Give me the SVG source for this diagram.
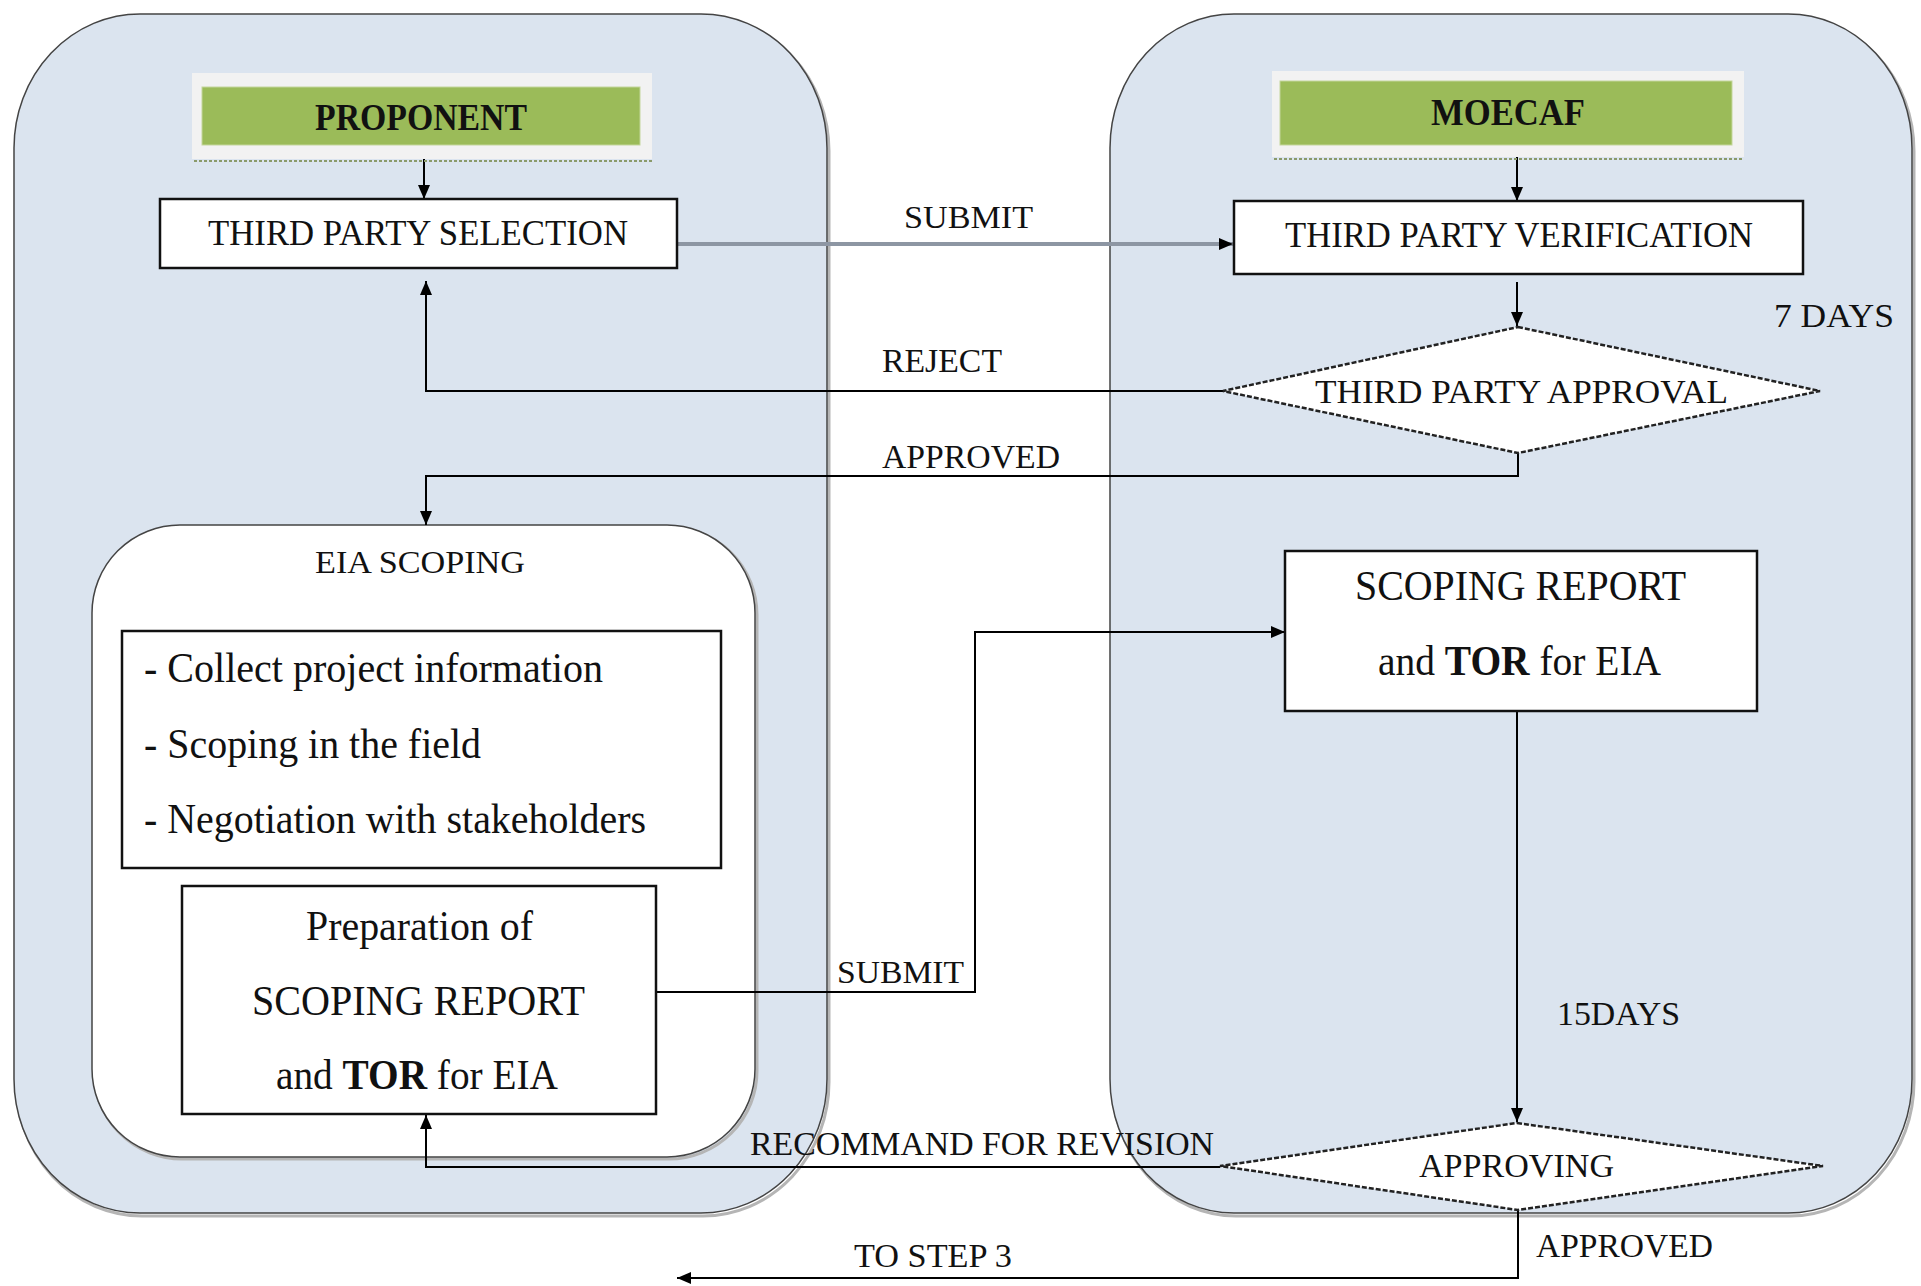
<svg xmlns="http://www.w3.org/2000/svg" width="1921" height="1286" viewBox="0 0 1921 1286">
<defs>
<marker id="arr" viewBox="0 0 14 12" refX="14" refY="6" markerWidth="14" markerHeight="13" markerUnits="userSpaceOnUse" orient="auto">
<path d="M0,0 L14,6 L0,12 z" fill="#000"/>
</marker>
<style>
.panel{fill:#dbe4ef;stroke:#444;stroke-width:1.5}
.shadow{fill:none;stroke:#b5b5b5;stroke-width:3}
.box{fill:#fff;stroke:#111;stroke-width:2.5}
.dia{fill:#fff;stroke:#222;stroke-width:2.5;stroke-dasharray:5 2}
.hdr{fill:#f2f2f2}
.hdrdot{stroke:#8a9a6a;stroke-width:2;stroke-dasharray:3 2}
.green{fill:#9bbb59;stroke:#c3d69b;stroke-width:1}
.conn{fill:none;stroke:#000;stroke-width:2}
.t{font-family:"Liberation Serif","Times New Roman",serif;fill:#111}
.b{font-weight:bold}
</style>
</defs>
<rect width="1921" height="1286" fill="#fff"/>
<g id="panel-proponent">
<rect class="shadow" x="16" y="17" width="813" height="1199" rx="126" ry="134"/>
<rect class="panel" x="14" y="14" width="813" height="1199" rx="126" ry="134"/>
</g>
<g id="panel-moecaf">
<rect class="shadow" x="1112" y="17" width="802" height="1199" rx="124" ry="134"/>
<rect class="panel" x="1110" y="14" width="802" height="1199" rx="124" ry="134"/>
</g>
<g id="eia-scoping">
<rect class="shadow" x="94" y="527" width="663" height="632" rx="88" ry="88"/>
<rect x="92" y="525" width="663" height="632" rx="88" ry="88" fill="#fff" stroke="#444" stroke-width="1.5"/>
<text class="t" x="315" y="573" font-size="32" textLength="210" lengthAdjust="spacingAndGlyphs">EIA SCOPING</text>
</g>
<g id="connectors">
<path class="conn" d="M424,152 V199" marker-end="url(#arr)"/>
<path d="M677,244 H1233" fill="none" stroke="#8d96a3" stroke-width="4" marker-end="url(#arr)"/>
<path class="conn" d="M1517,152 V201" marker-end="url(#arr)"/>
<path class="conn" d="M1517,282 V326" marker-end="url(#arr)"/>
<path class="conn" d="M1223,391 H426 V281" marker-end="url(#arr)"/>
<path class="conn" d="M1518,453 V476 H426 V525" marker-end="url(#arr)"/>
<path class="conn" d="M656,992 H975 V632 H1285" marker-end="url(#arr)"/>
<path class="conn" d="M1517,711 V1122" marker-end="url(#arr)"/>
<path class="conn" d="M1220,1167 H426 V1115" marker-end="url(#arr)"/>
<path class="conn" d="M1518,1210 V1278 H677" marker-end="url(#arr)"/>
<text class="t" x="904" y="228" font-size="32" textLength="129" lengthAdjust="spacingAndGlyphs">SUBMIT</text>
<text class="t" x="882" y="372" font-size="33" textLength="120" lengthAdjust="spacingAndGlyphs">REJECT</text>
<text class="t" x="882" y="468" font-size="33" textLength="178" lengthAdjust="spacingAndGlyphs">APPROVED</text>
<text class="t" x="1774" y="327" font-size="34" textLength="120" lengthAdjust="spacingAndGlyphs">7 DAYS</text>
<text class="t" x="837" y="983" font-size="32" textLength="127" lengthAdjust="spacingAndGlyphs">SUBMIT</text>
<text class="t" x="1557" y="1025" font-size="33" textLength="123" lengthAdjust="spacingAndGlyphs">15DAYS</text>
<text class="t" x="750" y="1155" font-size="33" textLength="464" lengthAdjust="spacingAndGlyphs">RECOMMAND FOR REVISION</text>
<text class="t" x="1536" y="1257" font-size="33" textLength="177" lengthAdjust="spacingAndGlyphs">APPROVED</text>
<text class="t" x="854" y="1267" font-size="33" textLength="158" lengthAdjust="spacingAndGlyphs">TO STEP 3</text>
</g>
<g id="proponent">
<rect class="hdr" x="192" y="73" width="460" height="86"/>
<line class="hdrdot" x1="194" y1="161" x2="652" y2="161"/>
<rect class="green" x="202" y="87" width="438" height="58"/>
<text class="t b" x="315" y="130" font-size="38" textLength="212" lengthAdjust="spacingAndGlyphs">PROPONENT</text>
</g>
<g id="moecaf">
<rect class="hdr" x="1272" y="71" width="472" height="86"/>
<line class="hdrdot" x1="1274" y1="159" x2="1744" y2="159"/>
<rect class="green" x="1280" y="81" width="452" height="64"/>
<text class="t b" x="1431" y="125" font-size="38" textLength="154" lengthAdjust="spacingAndGlyphs">MOECAF</text>
</g>
<g id="third-party-selection">
<rect class="box" x="160" y="199" width="517" height="69"/>
<text class="t" x="208" y="245" font-size="36" textLength="420" lengthAdjust="spacingAndGlyphs">THIRD PARTY SELECTION</text>
</g>
<g id="third-party-verification">
<rect class="box" x="1234" y="201" width="569" height="73"/>
<text class="t" x="1285" y="247" font-size="36" textLength="468" lengthAdjust="spacingAndGlyphs">THIRD PARTY VERIFICATION</text>
</g>
<g id="third-party-approval">
<polygon class="dia" points="1518,327 1820,391 1518,453 1223,391"/>
<text class="t" x="1315" y="403" font-size="33" textLength="413" lengthAdjust="spacingAndGlyphs">THIRD PARTY APPROVAL</text>
</g>
<g id="scoping-tasks">
<rect class="box" x="122" y="631" width="599" height="237"/>
<text class="t" x="144" y="682" font-size="42" textLength="459" lengthAdjust="spacingAndGlyphs">- Collect project information</text>
<text class="t" x="144" y="758" font-size="42" textLength="337" lengthAdjust="spacingAndGlyphs">- Scoping in the field</text>
<text class="t" x="144" y="833" font-size="42" textLength="502" lengthAdjust="spacingAndGlyphs">- Negotiation with stakeholders</text>
</g>
<g id="preparation">
<rect class="box" x="182" y="886" width="474" height="228"/>
<text class="t" x="306" y="940" font-size="42" textLength="227" lengthAdjust="spacingAndGlyphs">Preparation of</text>
<text class="t" x="252" y="1015" font-size="42" textLength="333" lengthAdjust="spacingAndGlyphs">SCOPING REPORT</text>
<text class="t" x="276" y="1089" font-size="42" textLength="282" lengthAdjust="spacingAndGlyphs">and <tspan class="b">TOR</tspan> for EIA</text>
</g>
<g id="scoping-report">
<rect class="box" x="1285" y="551" width="472" height="160"/>
<text class="t" x="1355" y="600" font-size="42" textLength="331" lengthAdjust="spacingAndGlyphs">SCOPING REPORT</text>
<text class="t" x="1378" y="675" font-size="42" textLength="283" lengthAdjust="spacingAndGlyphs">and <tspan class="b">TOR</tspan> for EIA</text>
</g>
<g id="approving">
<polygon class="dia" points="1517,1123 1823,1166 1518,1210 1220,1166"/>
<text class="t" x="1419" y="1177" font-size="33" textLength="195" lengthAdjust="spacingAndGlyphs">APPROVING</text>
</g>
</svg>
